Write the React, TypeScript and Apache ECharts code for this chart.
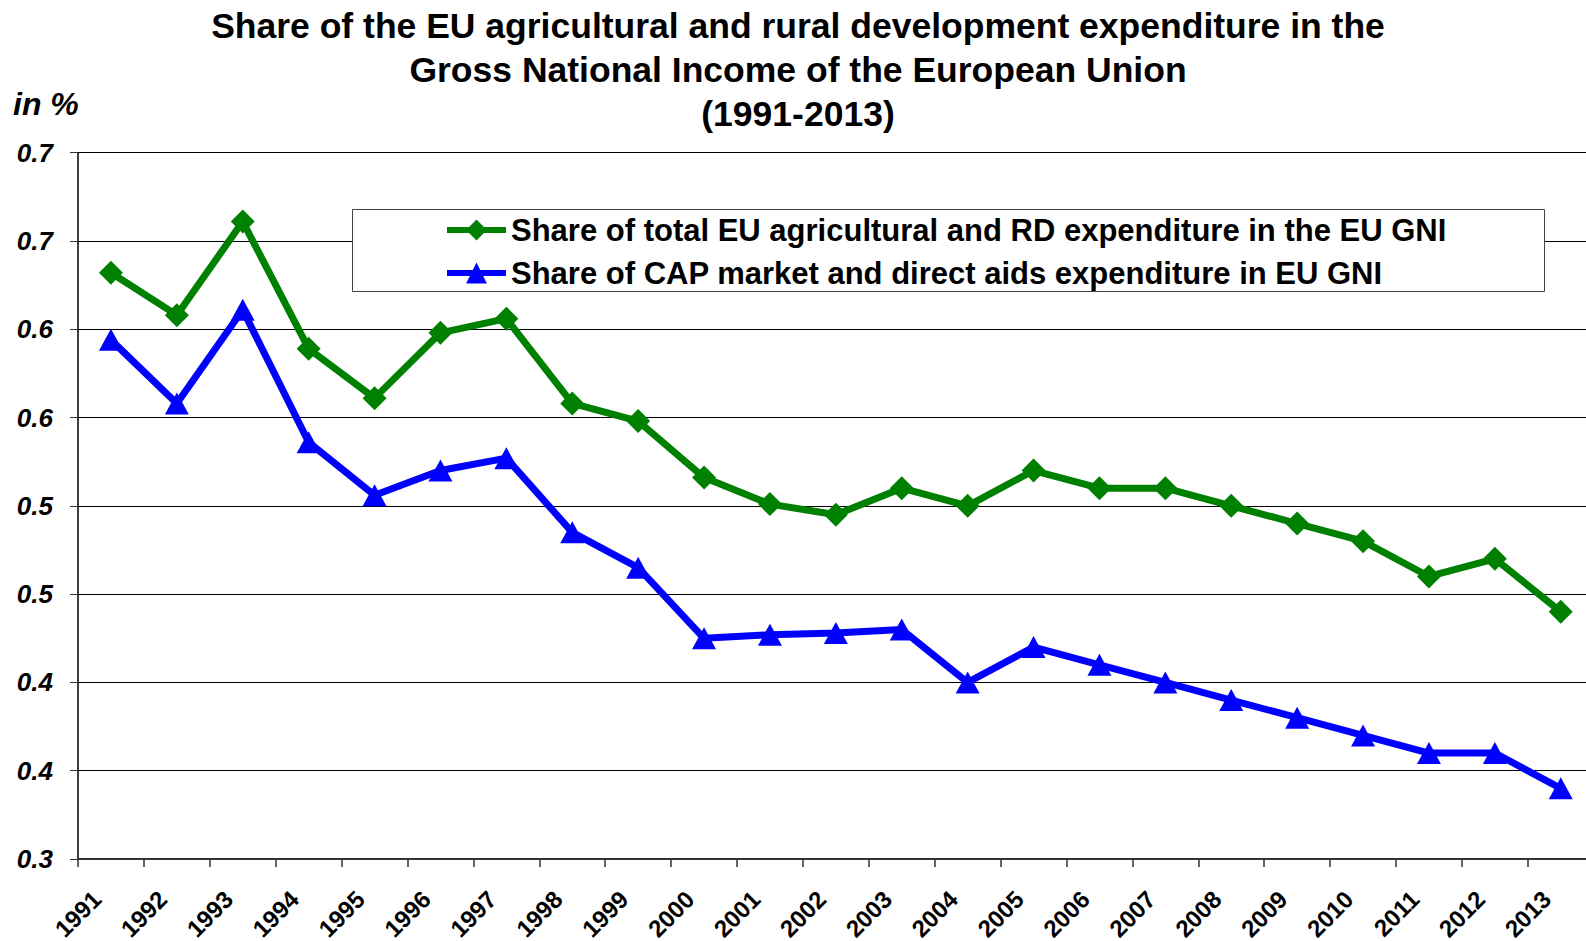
import React, { useEffect, useRef } from "react";
import * as echarts from "echarts";

const years = ["1991","1992","1993","1994","1995","1996","1997","1998","1999","2000","2001","2002","2003","2004","2005","2006","2007","2008","2009","2010","2011","2012","2013"];
const totalShare = [0.632, 0.608, 0.661, 0.589, 0.561, 0.598, 0.606, 0.558, 0.548, 0.516, 0.501, 0.495, 0.510, 0.500, 0.520, 0.510, 0.510, 0.500, 0.490, 0.480, 0.460, 0.470, 0.440];
const capShare = [0.594, 0.558, 0.611, 0.536, 0.506, 0.520, 0.527, 0.485, 0.465, 0.425, 0.427, 0.428, 0.430, 0.400, 0.420, 0.410, 0.400, 0.390, 0.380, 0.370, 0.360, 0.360, 0.340];
const yTickLabels = ["0.3", "0.4", "0.4", "0.5", "0.5", "0.6", "0.6", "0.7", "0.7"];
const seriesNames = [
  "Share of total EU agricultural and RD expenditure in the EU GNI",
  "Share of CAP market and direct aids expenditure in EU GNI",
];
const titleLines = [
  "Share of the EU agricultural and rural development expenditure in the",
  "Gross National Income of the European Union",
  "(1991-2013)",
];

const FONT = "'Liberation Sans', Arial, sans-serif";

export default function App() {
  const ref = useRef<HTMLDivElement>(null);
  useEffect(() => {
    const chart = echarts.init(ref.current!, null, { renderer: "svg" });
    const titleY = [26.3, 70, 113.5];
    chart.setOption({
      animation: false,
      backgroundColor: "#fff",
      textStyle: { fontFamily: FONT },
      graphic: [
        ...titleLines.map((t, i) => ({
          type: "text",
          x: 798,
          y: titleY[i],
          style: {
            text: t,
            fontFamily: FONT,
            fontWeight: "bold",
            fontSize: 35.5,
            fill: "#000",
            textAlign: "center",
            textVerticalAlign: "middle",
          },
        })),
        {
          type: "text",
          x: 13,
          y: 104,
          style: {
            text: "in %",
            fontFamily: FONT,
            fontWeight: "bold",
            fontStyle: "italic",
            fontSize: 32,
            fill: "#000",
            textAlign: "left",
            textVerticalAlign: "middle",
          },
        },
        {
          type: "rect",
          z: 3,
          shape: { x: 352.5, y: 209.5, width: 1192, height: 82 },
          style: { fill: "#fff", stroke: "#444", lineWidth: 1 },
        },
      ],
      legend: {
        orient: "vertical",
        left: 444,
        top: 214.5,
        padding: 0,
        itemGap: 12,
        itemWidth: 59,
        itemHeight: 26,
        z: 4,
        lineStyle: { width: 6 },
        textStyle: {
          fontFamily: FONT,
          fontWeight: "bold",
          fontSize: 31,
          lineHeight: 31,
          color: "#000",
        },
        data: seriesNames,
      },
      grid: {
        left: 78,
        top: 152.7,
        right: -7.7,
        bottom: 82,
        containLabel: false,
        outerBoundsMode: "none",
      },
      xAxis: {
        type: "category",
        data: years,
        boundaryGap: true,
        axisLine: { show: true, lineStyle: { color: "#333", width: 2 } },
        axisTick: { show: true, inside: false, length: 8, interval: 0, lineStyle: { color: "#333", width: 1.5 } },
        axisLabel: {
          interval: 0,
          rotate: 45,
          margin: 22,
          padding: [0, 20, 0, 0],
          fontFamily: FONT,
          fontWeight: "bold",
          fontSize: 24,
          color: "#000",
        },
        splitLine: { show: false },
      },
      yAxis: {
        type: "value",
        min: 0.3,
        max: 0.7,
        interval: 0.05,
        axisLine: { show: true, lineStyle: { color: "#000", width: 1.5 } },
        axisTick: { show: true, inside: false, length: 8, lineStyle: { color: "#333" } },
        axisLabel: {
          margin: 25,
          fontFamily: FONT,
          fontWeight: "bold",
          fontStyle: "italic",
          fontSize: 26,
          color: "#000",
          formatter: (v: number) => yTickLabels[Math.round((v - 0.3) / 0.05)] ?? "",
        },
        splitLine: { show: true, lineStyle: { color: "#000", width: 1 } },
      },
      series: [
        {
          name: seriesNames[0],
          type: "line",
          data: totalShare,
          symbol: "diamond",
          symbolSize: [24, 24],
          lineStyle: { color: "#008000", width: 7 },
          itemStyle: { color: "#008000" },
          z: 5,
        },
        {
          name: seriesNames[1],
          type: "line",
          data: capShare,
          symbol: "triangle",
          symbolSize: [24, 22],
          lineStyle: { color: "#0000ff", width: 7 },
          itemStyle: { color: "#0000ff" },
          z: 5,
        },
      ],
    });
    return () => chart.dispose();
  }, []);
  return (
    <div
      ref={ref}
      style={{ position: "fixed", left: 0, top: 0, width: 1586, height: 941 }}
    />
  );
}
